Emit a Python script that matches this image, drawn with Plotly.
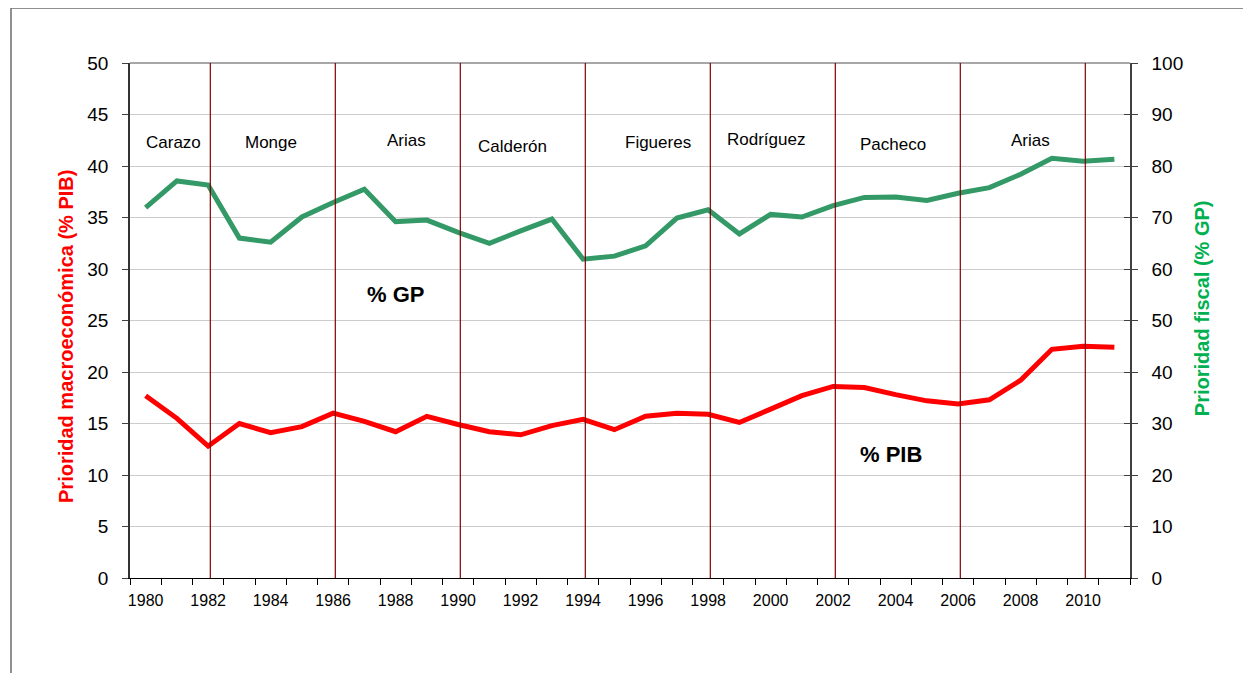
import plotly.graph_objects as go

years = list(range(1980, 2012))
pib = [17.7, 15.5, 12.8, 15.0, 14.1, 14.7, 16.0, 15.2, 14.2, 15.7, 14.9, 14.2, 13.9, 14.8, 15.4, 14.4,
       15.7, 16.0, 15.9, 15.1, 16.4, 17.7, 18.6, 18.5, 17.8, 17.2, 16.9, 17.3, 19.2, 22.2, 22.5, 22.4]
gp = [71.9, 77.1, 76.3, 66.0, 65.2, 70.1, 72.9, 75.5, 69.2, 69.5, 67.1, 65.0, 67.4, 69.7, 61.9, 62.5,
      64.5, 69.9, 71.5, 66.8, 70.6, 70.1, 72.3, 73.9, 74.0, 73.3, 74.7, 75.8, 78.4, 81.5, 80.9, 81.3]
x_labels = list(range(1980, 2011, 2))
term_starts = [1982, 1986, 1990, 1994, 1998, 2002, 2006, 2010]
presidents = ["Carazo", "Monge", "Arias", "Calderón", "Figueres", "Rodríguez", "Pacheco", "Arias"]
pres_x = [1980.9, 1984.0, 1988.35, 1991.75, 1996.4, 1999.85, 2003.9, 2008.3]
pres_y = [42.3, 42.3, 42.5, 41.9, 42.3, 42.6, 42.1, 42.5]

fig = go.Figure()
fig.add_trace(go.Scatter(x=years, y=pib, mode="lines", line=dict(color="#FF0000", width=5),
                         yaxis="y", showlegend=False))
fig.add_trace(go.Scatter(x=years, y=gp, mode="lines", line=dict(color="#339966", width=5),
                         yaxis="y2", showlegend=False))

for t in term_starts:
    fig.add_shape(type="line", xref="x", yref="paper", x0=t + 0.07, x1=t + 0.07, y0=0, y1=1,
                  line=dict(color="#800000", width=1.2), layer="above")

for name, xx, yy in zip(presidents, pres_x, pres_y):
    fig.add_annotation(x=xx, y=yy, xref="x", yref="y", text=name, showarrow=False,
                       font=dict(family="Liberation Sans, Arial", size=17, color="#000000"))

fig.add_annotation(x=1988.0, y=27.5, xref="x", yref="y", text="<b>% GP</b>", showarrow=False,
                   font=dict(family="Liberation Sans, Arial", size=22, color="#000000"))
fig.add_annotation(x=2003.85, y=12.0, xref="x", yref="y", text="<b>% PIB</b>", showarrow=False,
                   font=dict(family="Liberation Sans, Arial", size=22, color="#000000"))

# axis titles
fig.add_annotation(x=-0.064, y=0.468, xref="paper", yref="paper", textangle=-90, showarrow=False,
                   xanchor="center", yanchor="middle",
                   text="<b>Prioridad macroeconómica (% PIB)</b>",
                   font=dict(family="Liberation Sans, Arial", size=20, color="#FF0000"))
fig.add_annotation(x=1.072, y=0.524, xref="paper", yref="paper", textangle=-90, showarrow=False,
                   xanchor="center", yanchor="middle",
                   text="<b>Prioridad fiscal (% GP)</b>",
                   font=dict(family="Liberation Sans, Arial", size=20, color="#00B050"))

# top border of plot area
fig.add_shape(type="line", xref="paper", yref="paper", x0=0, x1=1, y0=1, y1=1,
              line=dict(color="#8a8a8a", width=1.5), layer="below")
# outer frame
fig.add_shape(type="line", xref="paper", yref="paper", x0=-0.119, x1=1.13, y0=1.1068, y1=1.1068,
              line=dict(color="#6b6b6b", width=1.5))
fig.add_shape(type="line", xref="paper", yref="paper", x0=-0.119, x1=-0.119, y0=1.1068, y1=-0.2,
              line=dict(color="#6b6b6b", width=1.5))

fig.update_layout(
    width=1251, height=673,
    margin=dict(l=122, r=129, t=55, b=103),
    paper_bgcolor="white", plot_bgcolor="white",
    font=dict(family="Liberation Sans, Arial", color="#000000"),
    xaxis=dict(range=[1979.5, 2011.5], tickmode="array", tickvals=x_labels,
               ticks="outside", ticklen=8, tickcolor="rgba(0,0,0,0)", tickfont=dict(size=16),
               showgrid=False, zeroline=False, showline=True, linecolor="#000000", linewidth=1,
               minor=dict(tickmode="array", tickvals=[y - 0.5 for y in years] + [2011.5],
                          ticks="outside", ticklen=6, tickcolor="#000000", showgrid=False)),
    yaxis=dict(range=[0, 50], dtick=5, ticks="outside", ticklen=6, tickcolor="#404040",
               tickfont=dict(size=19), ticklabelstandoff=10,
               showgrid=True, gridcolor="#cccccc", gridwidth=1,
               zeroline=False, showline=True, linecolor="#333333", linewidth=1.5),
    yaxis2=dict(range=[0, 100], dtick=10, overlaying="y", side="right", ticks="outside",
                ticklen=6, tickcolor="#404040", tickfont=dict(size=19), ticklabelstandoff=10,
                showgrid=False, zeroline=False, showline=True, linecolor="#404040", linewidth=1.5),
    yaxis3=dict(range=[0, 100], dtick=10, overlaying="y", side="right", ticks="inside",
                ticklen=6, tickcolor="#404040", showticklabels=False, showgrid=False,
                zeroline=False, showline=False),
)
fig.add_trace(go.Scatter(x=[None], y=[None], yaxis="y3", showlegend=False, hoverinfo="skip"))

fig.write_html("out.html")
